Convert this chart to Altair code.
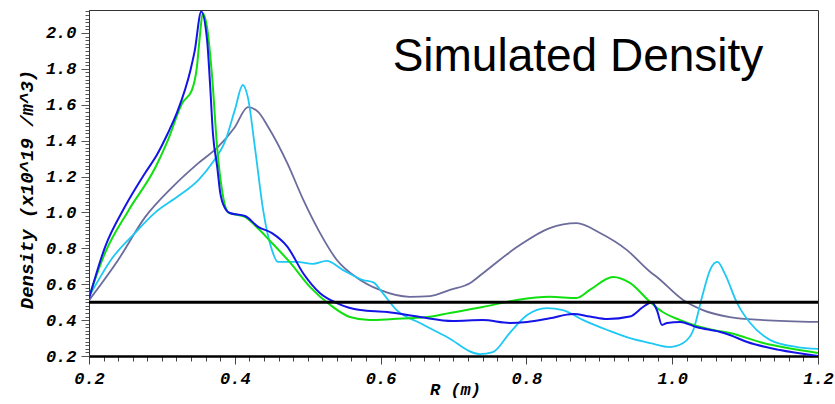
import altair as alt
import pandas as pd

# ---- data ----
R_blue = [0.200, 0.222, 0.249, 0.277, 0.293, 0.308, 0.322, 0.339, 0.345, 0.354, 0.362, 0.366, 0.370,
          0.376, 0.380, 0.387, 0.393, 0.414, 0.432, 0.451, 0.472, 0.494, 0.517, 0.540, 0.572, 0.609,
          0.654, 0.699, 0.740, 0.777, 0.801, 0.832, 0.864, 0.887, 0.911, 0.942, 0.960, 0.972, 0.979,
          0.986, 0.993, 1.011, 1.034, 1.066, 1.079, 1.103, 1.148, 1.200]
D_blue = [0.52, 0.807, 1.03, 1.22, 1.32, 1.44, 1.57, 1.79, 1.90, 2.12, 1.96, 1.72, 1.44,
          1.25, 1.11, 1.02, 0.997, 0.98, 0.92, 0.885, 0.81, 0.66, 0.55, 0.495, 0.456, 0.445,
          0.417, 0.395, 0.40, 0.384, 0.39, 0.41, 0.434, 0.42, 0.406, 0.42, 0.473, 0.50, 0.456,
          0.373, 0.384, 0.39, 0.36, 0.334, 0.317, 0.278, 0.233, 0.20]

R_green = [0.200, 0.222, 0.254, 0.291, 0.308, 0.328, 0.341, 0.348, 0.352, 0.356, 0.362, 0.369, 0.376,
           0.383, 0.391, 0.414, 0.432, 0.451, 0.476, 0.503, 0.531, 0.558, 0.585, 0.617, 0.664, 0.695,
           0.723, 0.740, 0.787, 0.832, 0.869, 0.887, 0.919, 0.942, 0.970, 0.987, 1.011, 1.056, 1.079,
           1.125, 1.200]
D_green = [0.53, 0.774, 1.01, 1.25, 1.40, 1.61, 1.68, 1.81, 1.98, 2.11, 2.03, 1.75, 1.35,
           1.11, 1.0, 0.975, 0.91, 0.83, 0.72, 0.585, 0.484, 0.417, 0.40, 0.406, 0.417, 0.44,
           0.46, 0.473, 0.512, 0.53, 0.523, 0.568, 0.64, 0.607, 0.50, 0.445, 0.40, 0.345, 0.328,
           0.272, 0.217]

R_cyan = [0.200, 0.232, 0.263, 0.291, 0.322, 0.350, 0.369, 0.387, 0.400, 0.411, 0.418, 0.428, 0.439,
          0.451, 0.459, 0.485, 0.507, 0.526, 0.548, 0.576, 0.590, 0.603, 0.622, 0.654, 0.691, 0.736,
          0.754, 0.777, 0.801, 0.828, 0.850, 0.878, 0.911, 0.942, 0.970, 0.997, 1.015, 1.029, 1.041,
          1.052, 1.062, 1.072, 1.089, 1.107, 1.134, 1.171, 1.200]
D_cyan = [0.53, 0.746, 0.885, 1.0, 1.09, 1.18, 1.275, 1.40, 1.57, 1.71, 1.64, 1.35, 1.01,
          0.79, 0.724, 0.724, 0.713, 0.73, 0.68, 0.623, 0.61, 0.55, 0.456, 0.384, 0.306, 0.211,
          0.222, 0.328, 0.428, 0.467, 0.456, 0.40, 0.345, 0.30, 0.272, 0.25, 0.272, 0.345, 0.53,
          0.68, 0.724, 0.66, 0.495, 0.384, 0.29, 0.25, 0.24]

R_slate = [0.200, 0.240, 0.277, 0.314, 0.350, 0.377, 0.400, 0.418, 0.432, 0.446, 0.472, 0.494, 0.517,
           0.540, 0.568, 0.599, 0.640, 0.668, 0.695, 0.723, 0.740, 0.787, 0.832, 0.869, 0.901, 0.938,
           0.970, 0.979, 1.015, 1.042, 1.079, 1.125, 1.200]
D_slate = [0.51, 0.735, 0.974, 1.14, 1.275, 1.365, 1.475, 1.587, 1.56, 1.475, 1.275, 1.07, 0.885,
           0.735, 0.635, 0.568, 0.53, 0.534, 0.568, 0.607, 0.66, 0.807, 0.913, 0.94, 0.885, 0.79,
           0.668, 0.64, 0.512, 0.456, 0.417, 0.40, 0.39]

reference_level = [0.5]

x_ticks = [round(0.2 + 0.02 * i, 2) for i in range(51)]
y_ticks = [round(0.2 + 0.02 * i, 2) for i in range(97)]

title_text = "Simulated Density"

MONO = "Liberation Mono"
major_test = "abs(datum.value*5 - round(datum.value*5)) < 0.001"

x_scale = alt.Scale(domain=[0.2, 1.2], nice=False, zero=False)
y_scale = alt.Scale(domain=[0.2, 2.128], nice=False, zero=False)

x_axis = alt.Axis(
    values=x_ticks,
    labelExpr=f"{major_test} ? format(datum.value, '.1f') : ''",
    labelOverlap=False, labelFlush=False,
    tickSize={"condition": {"test": major_test, "value": 8}, "value": 5},
    tickColor="#444", tickWidth=1,
    domainColor="black", domainWidth=2.5,
    labelFont=MONO, labelFontSize=17, labelFontStyle="italic", labelFontWeight="bold",
    labelColor="black", labelPadding=6,
    title="R (m)", titleFont=MONO, titleFontSize=17, titleFontStyle="italic",
    titleFontWeight="bold", titleColor="black",
    titleX=366, titleY=38, titleBaseline="alphabetic", titleAlign="center",
    grid=False,
)
y_axis = alt.Axis(
    values=y_ticks,
    labelExpr=f"{major_test} ? format(datum.value, '.1f') : ''",
    labelOverlap=False, labelFlush=False,
    tickSize={"condition": {"test": major_test, "value": 8}, "value": 4},
    tickColor="#555", tickWidth=1,
    domainColor="#333", domainWidth=1,
    labelFont=MONO, labelFontSize=17, labelFontStyle="italic", labelFontWeight="bold",
    labelColor="black", labelPadding=5,
    title="Density (x10^19 /m^3)", titleFont=MONO, titleFontSize=19, titleFontStyle="italic",
    titleFontWeight="bold", titleColor="black",
    titleX=-57, titleY=179, titleBaseline="alphabetic", titleAlign="center", titleAngle=270,
    grid=False,
)

def series(r, d, color, width):
    df = pd.DataFrame({"R": r, "Density": d})
    return alt.Chart(df).mark_line(color=color, strokeWidth=width, interpolate="monotone", clip=True).encode(
        x=alt.X("R:Q", scale=x_scale, axis=x_axis),
        y=alt.Y("Density:Q", scale=y_scale, axis=y_axis),
    )

slate = series(R_slate, D_slate, "#6c6c9c", 1.8)
cyan = series(R_cyan, D_cyan, "#1ec8f5", 1.8)
green = series(R_green, D_green, "#10e010", 2.0)
blue = series(R_blue, D_blue, "#1414e6", 2.0)

rule = alt.Chart(pd.DataFrame({"level": reference_level})).mark_rule(color="black", strokeWidth=3).encode(
    y=alt.Y("level:Q", scale=y_scale, axis=y_axis)
)

label = alt.Chart(pd.DataFrame({"t": [title_text]})).mark_text(
    font="Liberation Sans", fontSize=46, color="black", align="center", baseline="alphabetic"
).encode(text="t:N", x=alt.value(489), y=alt.value(61))

chart = alt.layer(slate, cyan, green, blue, rule, label).properties(
    width=729, height=346,
    autosize=alt.AutoSizeParams(type="none"),
    padding={"left": 89, "top": 10, "right": 17, "bottom": 48},
    background="white",
).configure_view(stroke="#333", strokeWidth=1)

chart.save("out.html", embed_options={"renderer": "svg", "actions": False})
